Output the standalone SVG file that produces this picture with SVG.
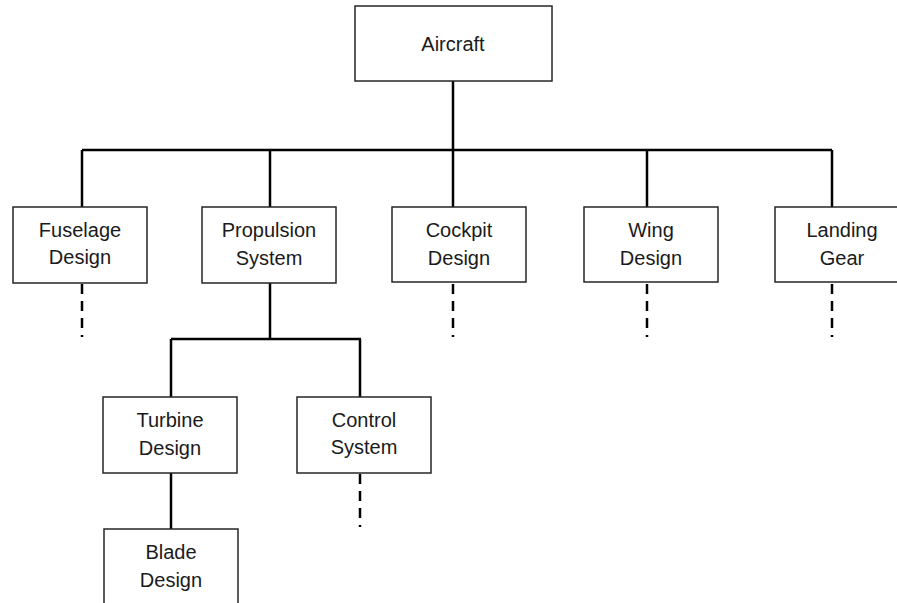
<svg xmlns="http://www.w3.org/2000/svg" width="897" height="603" viewBox="0 0 897 603">
  <style>
    .box { fill: #ffffff; stroke: #262626; stroke-width: 1.5; }
    .lbl { font-family: "Liberation Sans", Arial, sans-serif; font-size: 20px; fill: #1a1a1a; text-anchor: middle; }
    .link { stroke: #000000; stroke-width: 2.5; fill: none; }
    .more { stroke: #000000; stroke-width: 2.5; fill: none; stroke-dasharray: 10 7 10 7 10 7 2 40; }
  </style>
  <rect width="897" height="603" fill="#ffffff"/>

  <!-- connectors -->
  <g id="connectors">
    <path class="link" d="M453 81 V150 M82 150 H832 M82 150 V207 M270 150 V207 M453 150 V207 M647 150 V207 M832 150 V207"/>
    <path class="link" d="M270 283 V339 M171 339 H361 M171 339 V397 M360 339 V397"/>
    <path class="link" d="M171 473 V529"/>
    <path class="more" d="M82 284 V340 M453 284 V340 M647 284 V340 M832 284 V340 M360 474 V530"/>
  </g>

  <g id="aircraft">
    <rect class="box" x="355" y="6" width="197" height="75"/>
    <text class="lbl" x="453" y="51">Aircraft</text>
  </g>
  <g id="fuselage">
    <rect class="box" x="13" y="207" width="134" height="76"/>
    <text class="lbl" x="80" y="237">Fuselage</text>
    <text class="lbl" x="80" y="264">Design</text>
  </g>
  <g id="propulsion">
    <rect class="box" x="202" y="207" width="134" height="76"/>
    <text class="lbl" x="269" y="237">Propulsion</text>
    <text class="lbl" x="269" y="265">System</text>
  </g>
  <g id="cockpit">
    <rect class="box" x="392" y="207" width="134" height="75"/>
    <text class="lbl" x="459" y="237">Cockpit</text>
    <text class="lbl" x="459" y="265">Design</text>
  </g>
  <g id="wing">
    <rect class="box" x="584" y="207" width="134" height="75"/>
    <text class="lbl" x="651" y="237">Wing</text>
    <text class="lbl" x="651" y="265">Design</text>
  </g>
  <g id="landing">
    <rect class="box" x="775" y="207" width="134" height="75"/>
    <text class="lbl" x="842" y="237">Landing</text>
    <text class="lbl" x="842" y="265">Gear</text>
  </g>
  <g id="turbine">
    <rect class="box" x="103" y="397" width="134" height="76"/>
    <text class="lbl" x="170" y="427">Turbine</text>
    <text class="lbl" x="170" y="455">Design</text>
  </g>
  <g id="control">
    <rect class="box" x="297" y="397" width="134" height="76"/>
    <text class="lbl" x="364" y="427">Control</text>
    <text class="lbl" x="364" y="454">System</text>
  </g>
  <g id="blade">
    <rect class="box" x="104" y="529" width="134" height="80"/>
    <text class="lbl" x="171" y="559">Blade</text>
    <text class="lbl" x="171" y="587">Design</text>
  </g>
</svg>
